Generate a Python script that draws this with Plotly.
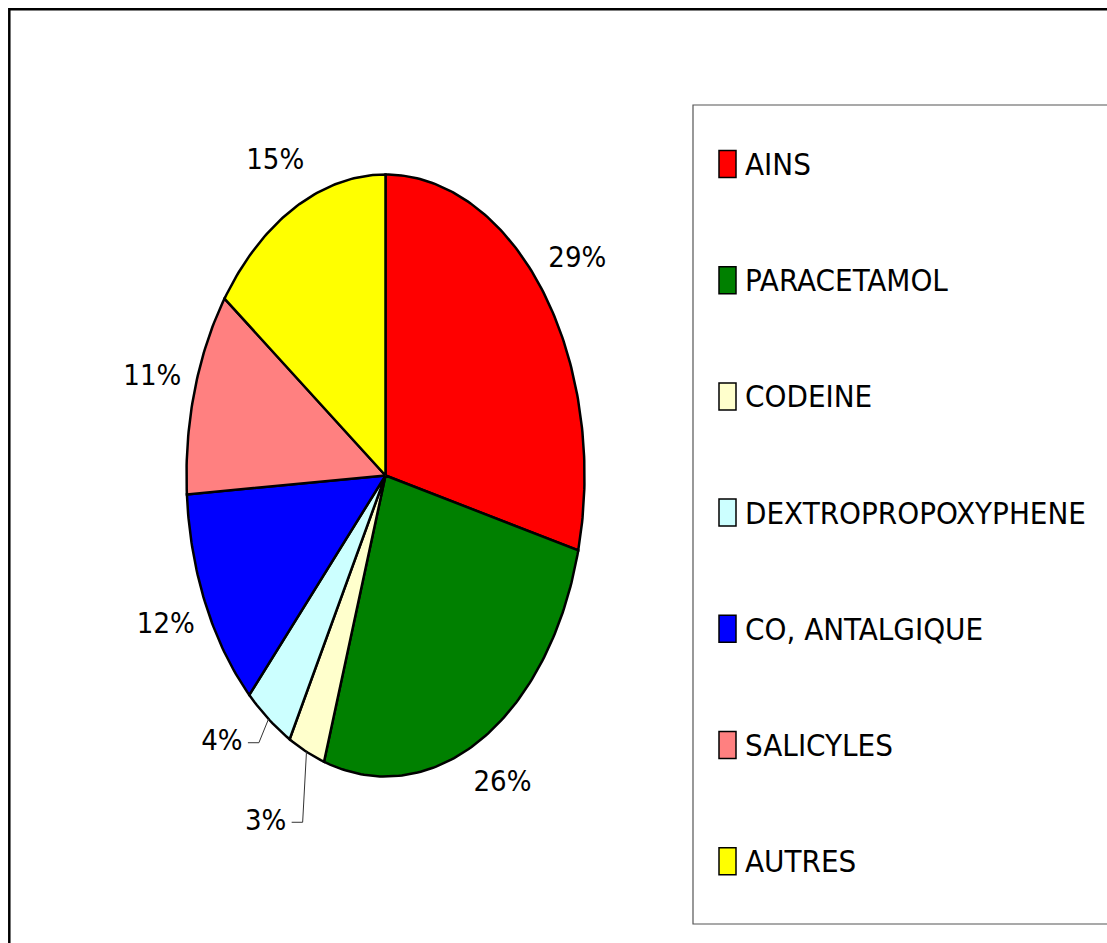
import numpy as np
import plotly.graph_objects as go

# data
labels = ["AINS", "PARACETAMOL", "CODEINE", "DEXTROPROPOXYPHENE",
          "CO, ANTALGIQUE", "SALICYLES", "AUTRES"]
values = [29, 26, 3, 4, 12, 11, 15]
colors = ["#FF0000", "#008000", "#FFFFCC", "#CCFFFF", "#0000FF", "#FF8080", "#FFFF00"]

# layout, in page pixels
W, H = 1107, 943
CX, CY = 385.5, 475.5      # pie centre
RX, RY = 199.0, 301.0      # pie is stretched vertically -> ellipse
LABEL_RX, LABEL_RY = 1.22, 1.17
# small slices get their label pushed aside + a leader line: (angle shift deg, radius)
callouts = {"CODEINE": (4.2, 1.30), "DEXTROPROPOXYPHENE": (6.8, 1.21)}

FONT = "Liberation Sans Narrow, DejaVu Sans Condensed, Arial Narrow, Liberation Sans, sans-serif"
FS_PCT = 29
FS_LEG = 31


def px2x(px):
    return px / W


def px2y(py):
    return 1 - py / H


fig = go.Figure()

total = float(sum(values))
start = 0.0
for lab, val, col in zip(labels, values, colors):
    end = start + val / total
    th = np.linspace(start, end, max(8, int(val * 4))) * 2 * np.pi
    u = np.concatenate([[0], np.sin(th), [0]])
    v = np.concatenate([[0], np.cos(th), [0]])
    fig.add_trace(go.Scatter(
        x=u, y=v, mode="lines", fill="toself", fillcolor=col,
        line=dict(color="black", width=2.5), name=lab,
        hoverinfo="name", showlegend=False,
    ))

    mid = (start + end) / 2 * 2 * np.pi
    if lab in callouts:
        shift, r = callouts[lab]
        ang = mid + np.radians(shift)
        lx, ly = r * np.sin(ang), r * np.cos(ang)
    else:
        lx, ly = LABEL_RX * np.sin(mid), LABEL_RY * np.cos(mid)
    fig.add_trace(go.Scatter(
        x=[lx], y=[ly], mode="text", text=[f"{val}%"],
        textposition="middle center",
        textfont=dict(family=FONT, size=FS_PCT, color="black"),
        hoverinfo="skip", showlegend=False,
    ))
    if lab in callouts:
        # leader: short horizontal stub from the label, then to the rim
        x0 = lx + 26 / RX
        x1 = lx + 37 / RX
        fig.add_trace(go.Scatter(
            x=[x0, x1, np.sin(mid)], y=[ly, ly, np.cos(mid)], mode="lines",
            line=dict(color="#333333", width=1),
            hoverinfo="skip", showlegend=False,
        ))
    start = end

shapes = [
    # outer frame (runs off the right/bottom edge)
    dict(type="rect", xref="paper", yref="paper",
         x0=px2x(9.3), x1=px2x(W + 10), y0=px2y(9.3), y1=px2y(H + 10),
         line=dict(color="black", width=2.5)),
    # legend box
    dict(type="rect", xref="paper", yref="paper",
         x0=px2x(693), x1=px2x(W + 10), y0=px2y(105), y1=px2y(924),
         line=dict(color="#555555", width=1.2)),
]
annotations = []
for i, (lab, col) in enumerate(zip(labels, colors)):
    yc = 164 + i * 116.2
    shapes.append(dict(type="rect", xref="paper", yref="paper",
                       x0=px2x(719), x1=px2x(736), y0=px2y(yc - 13.5), y1=px2y(yc + 13.5),
                       fillcolor=col, line=dict(color="black", width=1.5)))
    annotations.append(dict(xref="paper", yref="paper", x=px2x(743), y=px2y(yc),
                            xanchor="left", yanchor="middle", showarrow=False,
                            text=lab, font=dict(family=FONT, size=FS_LEG, color="black")))

fig.update_layout(
    width=W, height=H,
    margin=dict(l=0, r=0, t=0, b=0),
    paper_bgcolor="white", plot_bgcolor="white",
    xaxis=dict(range=[-CX / RX, (W - CX) / RX], visible=False, fixedrange=True),
    yaxis=dict(range=[(CY - H) / RY, CY / RY], visible=False, fixedrange=True),
    shapes=shapes, annotations=annotations,
    showlegend=False,
)

# drop the browser's default 8px body margin so the figure sits at the page corner
fig.write_html("out.html", config=dict(displayModeBar=False),
               post_script="document.body.style.margin='0';document.body.style.overflow='hidden';")
